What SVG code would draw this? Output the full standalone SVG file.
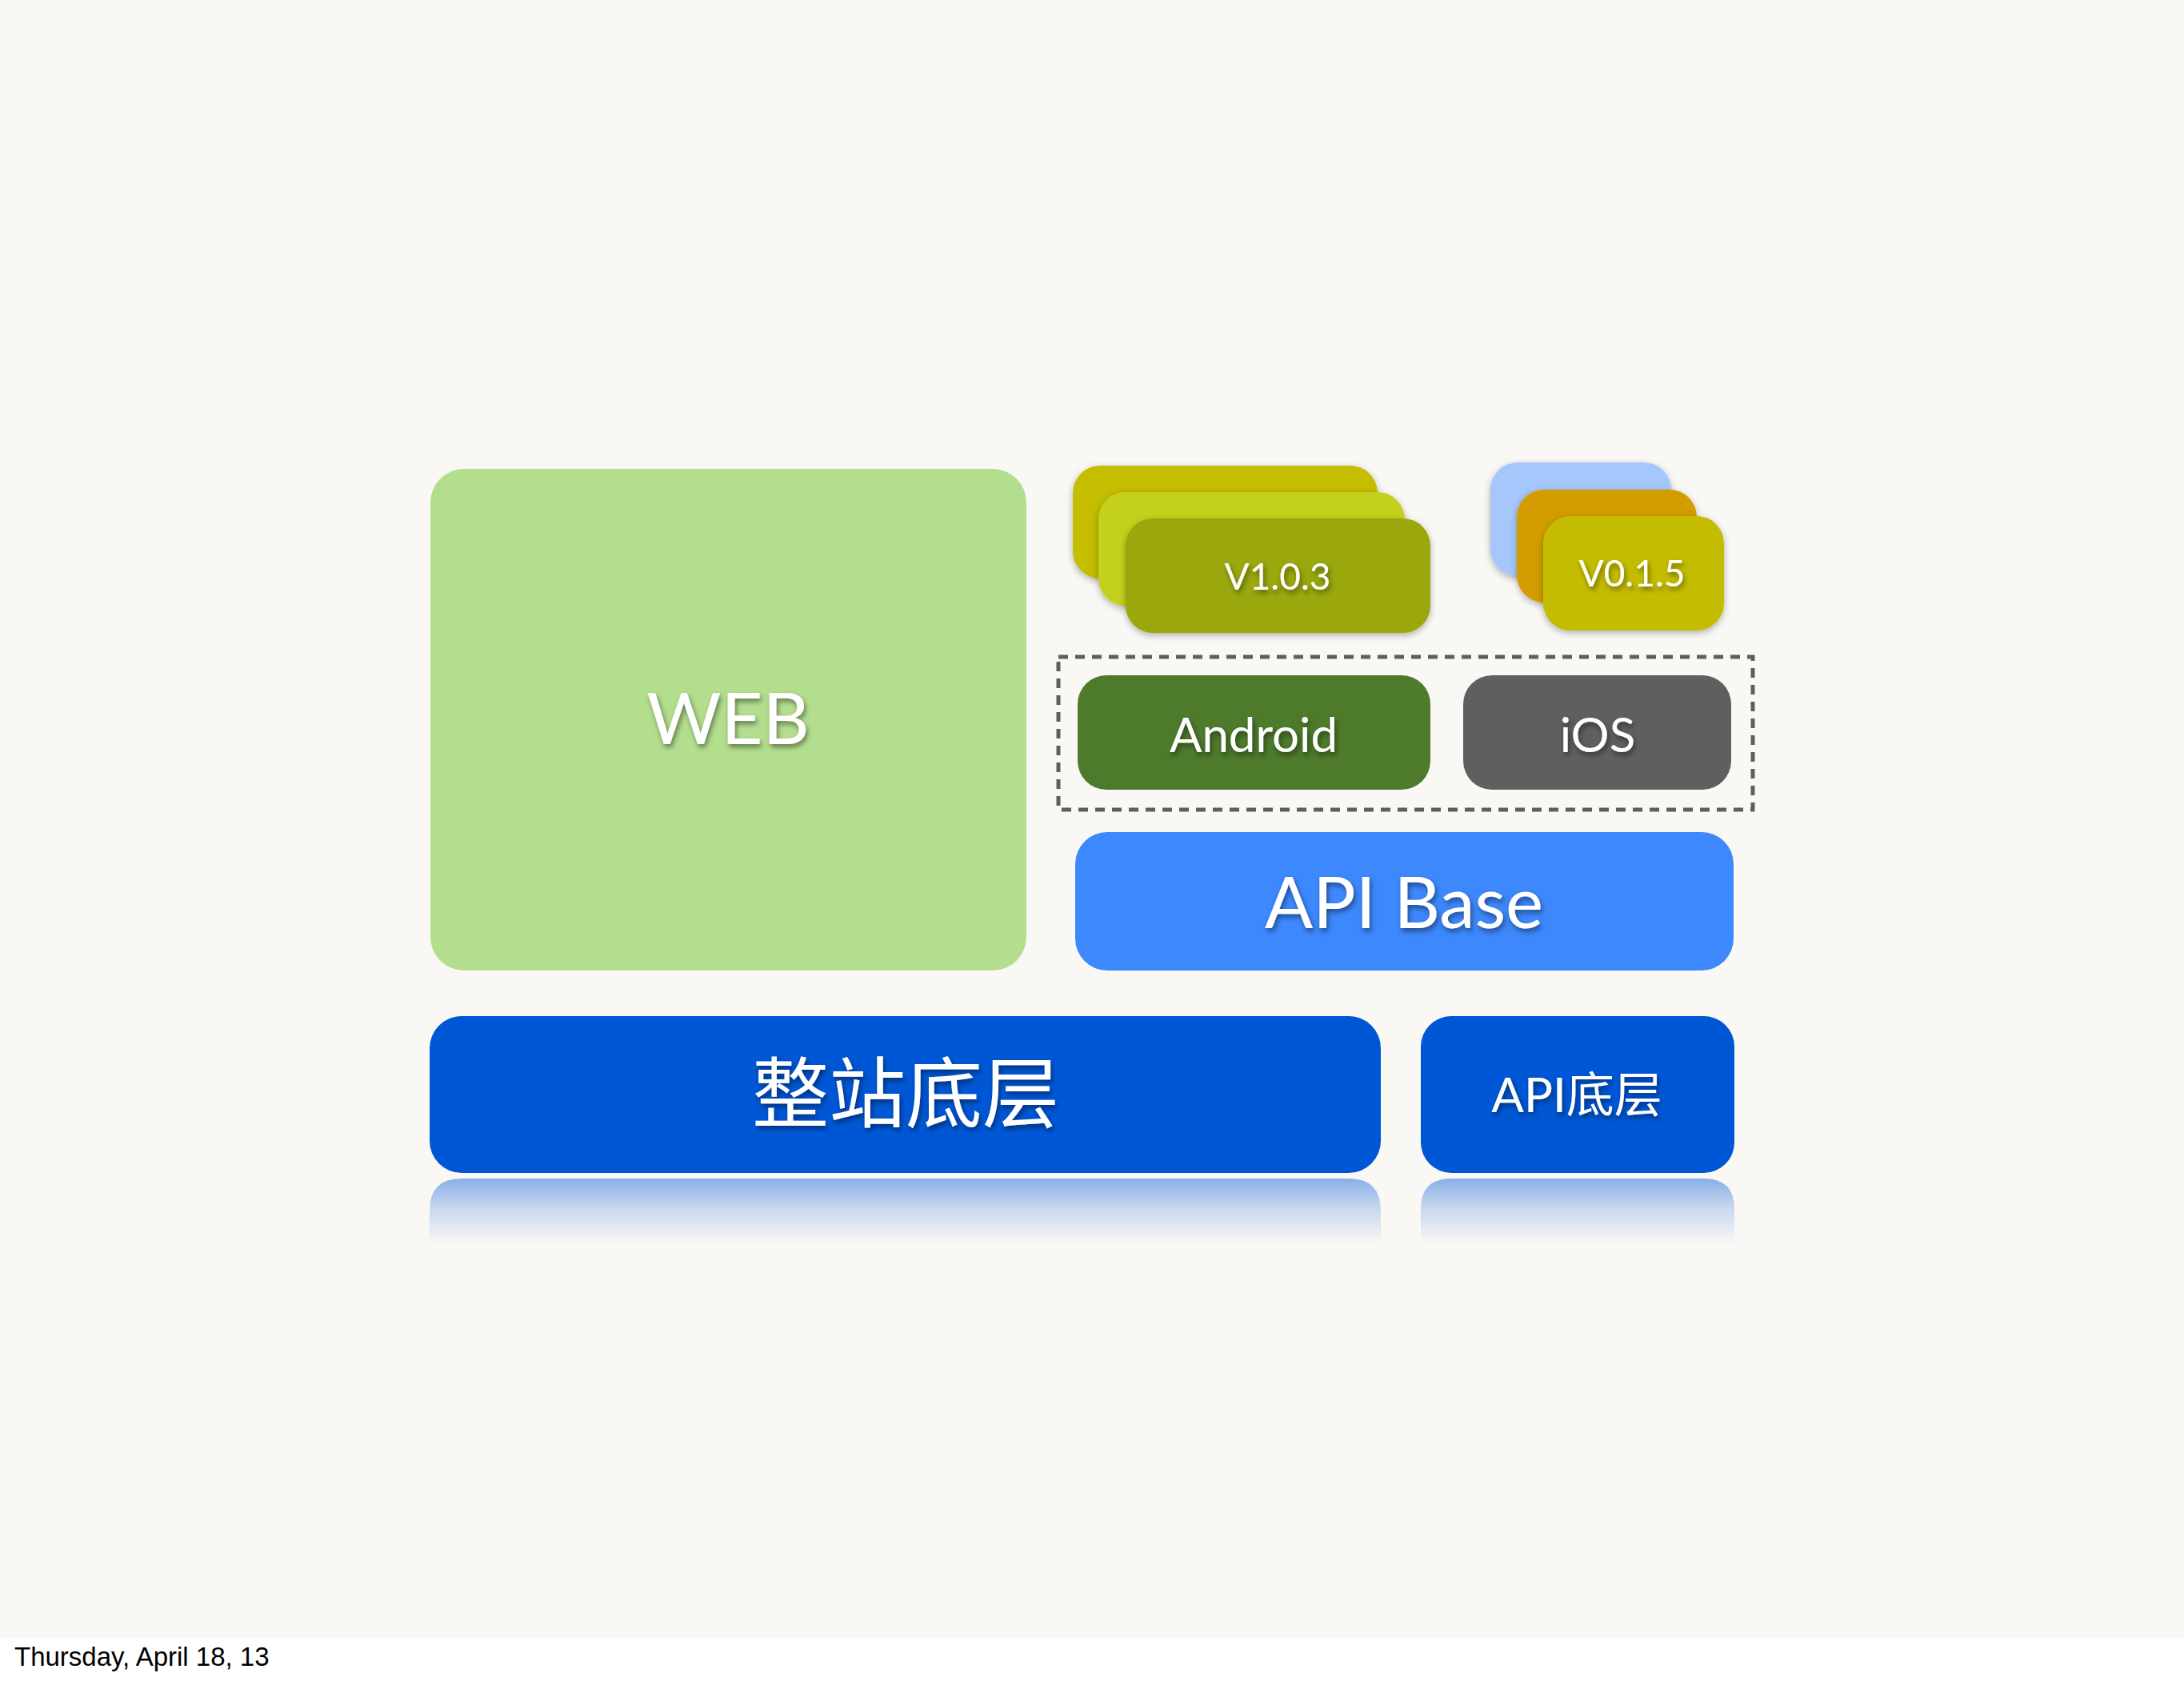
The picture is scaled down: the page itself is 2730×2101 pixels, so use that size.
<svg xmlns="http://www.w3.org/2000/svg" width="2730" height="2101" viewBox="0 0 2730 2101">
  <style>
    .lbl { font-family: Lato, "Open Sans", "Noto Sans CJK SC", sans-serif; fill: #ffffff; text-anchor: middle; filter: url(#tshadow); }
    .cjk { font-family: Lato, "Noto Sans CJK SC", sans-serif; fill: #ffffff; text-anchor: middle; filter: url(#tshadow); }
    .card { filter: url(#cshadow); }
    .foot { font-family: "Liberation Sans", Arial, sans-serif; font-size: 33px; fill: #000000; }
  </style>
  <defs>
    <filter id="tshadow" x="-20%" y="-30%" width="140%" height="170%">
      <feDropShadow dx="2" dy="4" stdDeviation="3" flood-color="#000000" flood-opacity="0.45"/>
    </filter>
    <filter id="cshadow" x="-10%" y="-10%" width="125%" height="130%">
      <feDropShadow dx="0" dy="3" stdDeviation="4" flood-color="#000000" flood-opacity="0.3"/>
    </filter>
    <linearGradient id="refl" x1="0" y1="0" x2="0" y2="1">
      <stop offset="0" stop-color="#0057d6" stop-opacity="0.45"/>
      <stop offset="0.45" stop-color="#0057d6" stop-opacity="0.2"/>
      <stop offset="1" stop-color="#0057d6" stop-opacity="0"/>
    </linearGradient>
  </defs>

  <rect x="0" y="0" width="2730" height="2048" fill="#f9f8f5"/>
  <rect x="0" y="2048" width="2730" height="53" fill="#ffffff"/>

  <g id="connectors"></g>

  <g id="web">
    <rect x="538" y="586" width="745" height="627" rx="42" fill="#b3de8e"/>
    <text class="lbl" x="910" y="930" font-size="90">WEB</text>
  </g>

  <g id="android-versions">
    <rect class="card" x="1341" y="582" width="381" height="141" rx="34" fill="#c4bd00"/>
    <rect class="card" x="1373" y="615" width="383" height="142" rx="34" fill="#c4d11a"/>
    <rect class="card" x="1407" y="648" width="381" height="143" rx="34" fill="#9aa80e"/>
    <text class="lbl" x="1597" y="737" font-size="46">V1.0.3</text>
  </g>

  <g id="ios-versions">
    <rect class="card" x="1863" y="578" width="226" height="142" rx="34" fill="#a6c7fb"/>
    <rect class="card" x="1896" y="612" width="225" height="141" rx="34" fill="#d39d00"/>
    <rect class="card" x="1929" y="645" width="226" height="143" rx="34" fill="#c4bc00"/>
    <text class="lbl" x="2040" y="733" font-size="46">V0.1.5</text>
  </g>

  <g id="clients">
    <rect x="1323" y="821" width="868" height="191" fill="none" stroke="#5e5e5e" stroke-width="5" stroke-dasharray="12 9"/>
  </g>

  <g id="android">
    <rect x="1347" y="844" width="441" height="143" rx="36" fill="#4e7a2b"/>
    <text class="lbl" x="1567" y="940" font-size="60">Android</text>
  </g>

  <g id="ios">
    <rect x="1829" y="844" width="335" height="143" rx="36" fill="#5f5f5f"/>
    <text class="lbl" x="1997" y="940" font-size="60">iOS</text>
  </g>

  <g id="api-base">
    <rect x="1344" y="1040" width="823" height="173" rx="40" fill="#3d88fd"/>
    <text class="lbl" x="1755" y="1160" font-size="89">API Base</text>
  </g>

  <g id="site-base">
    <path d="M537,1513 Q537,1473 577,1473 L1686,1473 Q1726,1473 1726,1513 L1726,1555 L537,1555 Z" fill="url(#refl)"/>
    <rect x="537" y="1270" width="1189" height="196" rx="40" fill="#0057d6"/>
    <text class="cjk" x="1132" y="1401" font-size="96">整站底层</text>
  </g>

  <g id="api-low">
    <path d="M1776,1511 Q1776,1473 1814,1473 L2130,1473 Q2168,1473 2168,1511 L2168,1555 L1776,1555 Z" fill="url(#refl)"/>
    <rect x="1776" y="1270" width="392" height="196" rx="38" fill="#0057d6"/>
    <text class="cjk" x="1971" y="1390" font-size="60">API底层</text>
  </g>

  <text class="foot" x="18" y="2082">Thursday, April 18, 13</text>
</svg>
